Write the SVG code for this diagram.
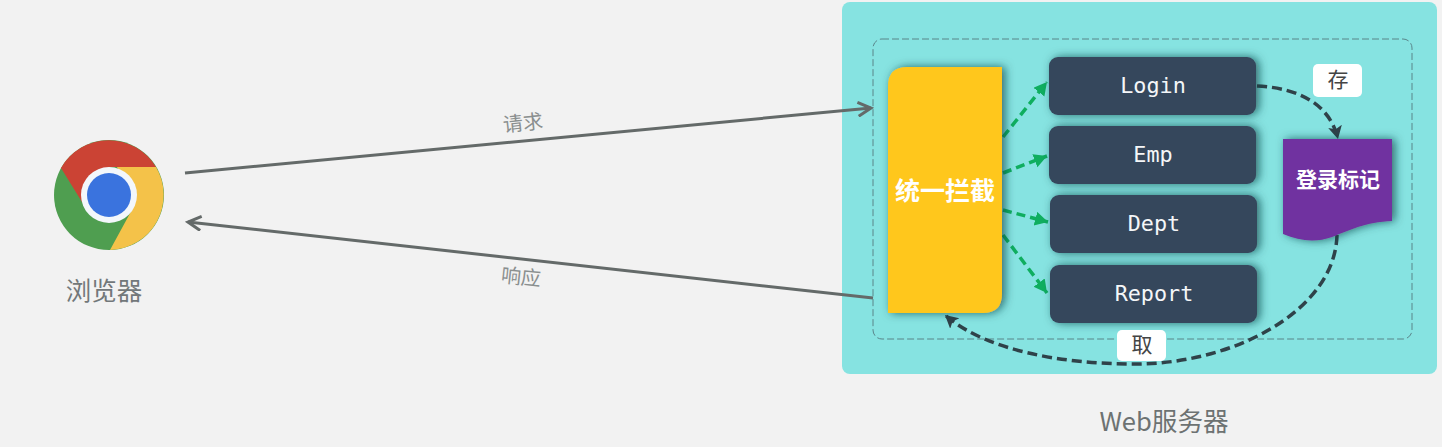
<svg xmlns="http://www.w3.org/2000/svg" width="1442" height="447" viewBox="0 0 1442 447">
<defs>
<style>
.cjk{font-family:"Noto Sans CJK SC","Liberation Sans",sans-serif}
.api{fill:#34465c;filter:url(#sh)}
.apit{font-family:"DejaVu Sans Mono","Liberation Mono",monospace;font-size:21.8px;fill:#f4f6f8;text-anchor:middle}
.tag{fill:#fff}
.tagt{font-size:21px;fill:#444;text-anchor:middle}
.gray{fill:none;stroke:#646a69;stroke-width:3}
.green{fill:none;stroke:#0fae5f;stroke-width:3.5;stroke-dasharray:9 5}
.dark{fill:none;stroke:#2f4249;stroke-width:3.5;stroke-dasharray:10 5}
</style>
<filter id="sh" x="-20%" y="-20%" width="140%" height="140%"><feDropShadow dx="3" dy="0" stdDeviation="5" flood-color="#174045" flood-opacity=".75"/></filter>
<marker id="ag" markerWidth="18" markerHeight="16" refX="15" refY="8" orient="auto" markerUnits="userSpaceOnUse"><path d="M2 1L15 8L2 15" fill="none" stroke="#646a69" stroke-width="3"/></marker>
<marker id="gr" markerWidth="16" markerHeight="16" refX="13" refY="7" orient="auto" markerUnits="userSpaceOnUse"><path d="M0 0L13 7L0 14z" fill="#0fae5f"/></marker>
<marker id="dk" markerWidth="16" markerHeight="16" refX="13" refY="7" orient="auto" markerUnits="userSpaceOnUse"><path d="M0 0L13 7L0 14L3 7z" fill="#2f4249"/></marker>
</defs>
<rect width="1442" height="447" fill="#f2f2f2"/>
<g id="web-server">
<rect x="842" y="2" width="595" height="372" rx="8" fill="#86e3e1"/>
<rect x="873" y="39" width="539" height="300" rx="9" fill="none" stroke="#557a80" stroke-width=".9" stroke-dasharray="7 3"/>
<text x="1164" y="431" class="cjk" font-size="25.6" fill="#6d7272" text-anchor="middle">Web服务器</text>
</g>
<g id="browser">
<circle cx="109" cy="195" r="55" fill="#4f9e50"/>
<path d="M61 168A55 55 0 0 1 156 167L109 167L82 202z" fill="#cb4334"/>
<path d="M156 167A55 55 0 0 1 110 250L134 206L117 167z" fill="#f4c249"/>
<circle cx="109" cy="195" r="28" fill="#f3f7fb"/>
<circle cx="109" cy="195" r="22" fill="#3a73de"/>
<text x="104" y="300" class="cjk" font-size="25.5" fill="#72787a" text-anchor="middle">浏览器</text>
</g>
<g id="connectors">
<path class="gray" d="M185 173L871 108" marker-end="url(#ag)"/>
<path class="gray" d="M873 298L188 222" marker-end="url(#ag)"/>
<path class="green" d="M1003 137L1047 82" marker-end="url(#gr)"/>
<path class="green" d="M1003 173L1047 156" marker-end="url(#gr)"/>
<path class="green" d="M1003 210L1048 222" marker-end="url(#gr)"/>
<path class="green" d="M1003 235L1047 293" marker-end="url(#gr)"/>
<path class="dark" d="M1257 86C1300 88 1330 105 1338 139" marker-end="url(#dk)"/>
<path class="dark" d="M1337 235C1335 310 1235 364 1135 364C1060 364 985 350 945 315" marker-end="url(#dk)"/>
</g>
<g id="edge-labels">
<text x="523" y="130" class="cjk" font-size="20" fill="#8a8f8f" text-anchor="middle" transform="rotate(-6 523 124)">请求</text>
<text x="521" y="284" class="cjk" font-size="20" fill="#8a8f8f" text-anchor="middle" transform="rotate(6 521 278)">响应</text>
</g>
<g id="interceptor">
<path d="M888 313V86Q888 67 907 67H1002V294Q1002 313 983 313z" fill="#ffc71c" filter="url(#sh)"/>
<text x="945" y="200" class="cjk" font-size="25" font-weight="700" fill="#fff" text-anchor="middle">统一拦截</text>
</g>
<g id="login"><rect class="api" x="1049" y="57" width="207" height="58" rx="9"/><text class="apit" x="1153" y="93">Login</text></g>
<g id="emp"><rect class="api" x="1049" y="126" width="207" height="58" rx="9"/><text class="apit" x="1153" y="162">Emp</text></g>
<g id="dept"><rect class="api" x="1050" y="195" width="207" height="58" rx="9"/><text class="apit" x="1154" y="231">Dept</text></g>
<g id="report"><rect class="api" x="1050" y="265" width="207" height="58" rx="9"/><text class="apit" x="1154" y="301">Report</text></g>
<g id="token">
<path d="M1283 139H1392V221C1365 222 1350 230 1332 237C1315 243 1300 241 1283 234z" fill="#7030a0" filter="url(#sh)"/>
<text x="1338" y="187" class="cjk" font-size="21" font-weight="700" fill="#fff" text-anchor="middle">登录标记</text>
</g>
<g id="tag-save"><rect class="tag" x="1313" y="64" width="49" height="33" rx="5"/><text class="cjk tagt" x="1338" y="87">存</text></g>
<g id="tag-get"><rect class="tag" x="1117" y="330" width="49" height="31" rx="5"/><text class="cjk tagt" x="1142" y="352">取</text></g>
</svg>
